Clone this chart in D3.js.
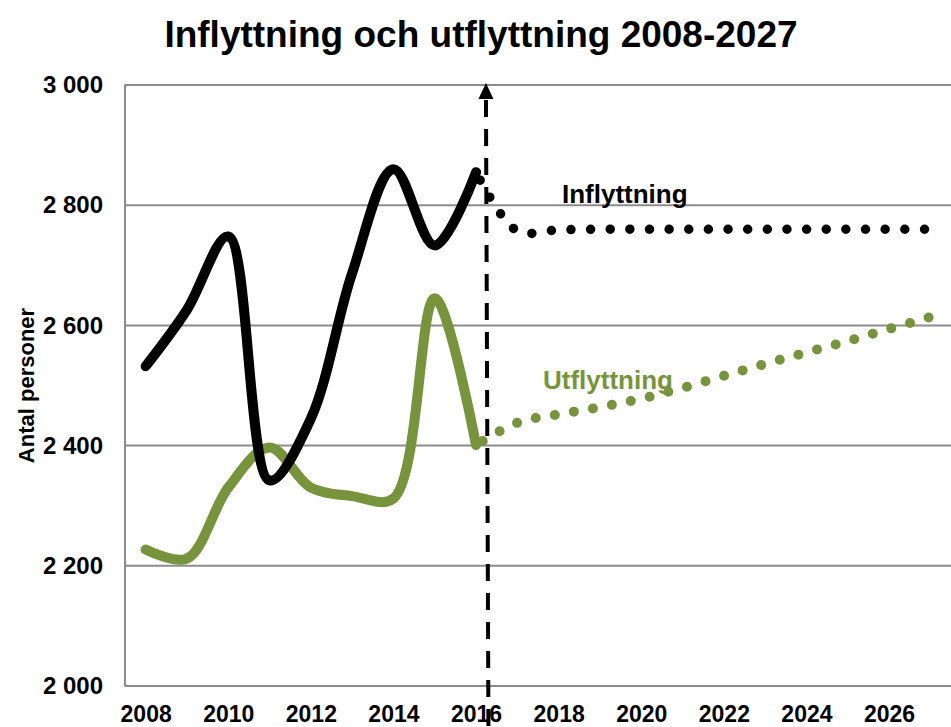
<!DOCTYPE html>
<meta charset="utf-8">
<style>
body { margin: 0; background: #fff; }
text { font-family: "Liberation Sans", Arial, sans-serif; font-weight: bold; }
.grid line { stroke: #8c8c8c; stroke-width: 2; }
</style>
<body>
<script src="https://d3js.org/d3.v7.min.js"></script>
<script>

// years shown on the x axis
const tickYears = [2008, 2010, 2012, 2014, 2016, 2018, 2020, 2022, 2024, 2026];
const yTicks = [2000, 2200, 2400, 2600, 2800, 3000];

// outcome 2008-2016
const histYears = [2008, 2009, 2010, 2011, 2012, 2013, 2014, 2015, 2016];
const inflyttning = [2532, 2626, 2748, 2342, 2445, 2687, 2860, 2733, 2855];
const utflyttning = [2227, 2212, 2330, 2397, 2330, 2316, 2312, 2645, 2401];

// forecast 2016-2027
const progYears = [2016, 2017, 2018, 2019, 2020, 2021, 2022, 2023, 2024, 2025, 2026, 2027];
const inflyttningProg = [2855, 2757, 2759, 2760, 2760, 2760, 2760, 2760, 2760, 2760, 2760, 2760];
const utflyttningProg = [2401, 2438, 2452, 2464, 2478, 2496, 2516, 2536, 2555, 2574, 2594, 2614];

var width = 951, height = 727;
var margin = {top: 85, right: 0, bottom: 41, left: 125};

var svg = d3.select("body").append("svg")
  .attr("width", width)
  .attr("height", height);

var x = d3.scaleLinear().domain([2007.5, 2027.5]).range([margin.left, width - margin.right]);
var y = d3.scaleLinear().domain([2000, 3000]).range([height - margin.bottom, margin.top]);

var locale = d3.formatLocale({decimal: ",", thousands: " ", grouping: [3], currency: ["", ""]});
var fmt = locale.format(",d");

var green = "#77933c";

// gridlines
svg.append("g")
  .attr("class", "grid")
  .selectAll("line")
  .data(yTicks)
  .enter().append("line")
    .attr("x1", margin.left)
    .attr("x2", width)
    .attr("y1", d => y(d))
    .attr("y2", d => y(d));

// left axis line
svg.append("line")
  .attr("x1", margin.left).attr("x2", margin.left)
  .attr("y1", y(3000)).attr("y2", y(2000))
  .attr("stroke", "#8c8c8c").attr("stroke-width", 2);

var yAxis = svg.append("g")
  .attr("transform", "translate(" + margin.left + ",0)")
  .call(d3.axisLeft(y).tickValues(yTicks).tickFormat(fmt).tickSize(0).tickPadding(22));
yAxis.select(".domain").remove();
yAxis.selectAll("text")
  .attr("font-size", "24px")
  .attr("font-family", "Liberation Sans, Arial, sans-serif")
  .attr("font-weight", "bold")
  .attr("fill", "#000");

var xAxis = svg.append("g")
  .attr("transform", "translate(0," + y(2000) + ")")
  .call(d3.axisBottom(x).tickValues(tickYears).tickFormat(d3.format("d")).tickSize(0).tickPadding(20));
xAxis.select(".domain").remove();
xAxis.selectAll("text")
  .attr("font-size", "23px")
  .attr("font-family", "Liberation Sans, Arial, sans-serif")
  .attr("font-weight", "bold")
  .attr("fill", "#000");

// axis title
svg.append("text")
  .attr("transform", "translate(34," + (margin.top + height - margin.bottom) / 2 + ") rotate(-90)")
  .attr("text-anchor", "middle")
  .attr("font-size", "22px")
  .text("Antal personer");

// chart title
svg.append("text")
  .attr("x", 481)
  .attr("y", 47)
  .attr("text-anchor", "middle")
  .attr("font-size", "37px")
  .text("Inflyttning och utflyttning 2008-2027");

var line = d3.line()
  .x(d => x(d[0]))
  .y(d => y(d[1]))
  .curve(d3.curveCatmullRom);

// forecast divider with arrow
var divTop = 2016.24, divBottom = 2016.3;
svg.append("line")
  .attr("x1", x(divTop)).attr("y1", y(2975))
  .attr("x2", x(divBottom)).attr("y2", height)
  .attr("stroke", "#000")
  .attr("stroke-width", 4)
  .attr("stroke-dasharray", "17,12");
svg.append("path")
  .attr("d", "M" + x(divTop) + "," + (y(3000) - 2) + "l-7.5,16h15z")
  .attr("fill", "#000");

// solid lines (outcome)
svg.append("path")
  .datum(histYears.map((d, i) => [d, utflyttning[i]]))
  .attr("d", line)
  .attr("fill", "none")
  .attr("stroke", green)
  .attr("stroke-width", 10)
  .attr("stroke-linecap", "round")
  .attr("stroke-linejoin", "round");

svg.append("path")
  .datum(histYears.map((d, i) => [d, inflyttning[i]]))
  .attr("d", line)
  .attr("fill", "none")
  .attr("stroke", "#000")
  .attr("stroke-width", 10)
  .attr("stroke-linecap", "round")
  .attr("stroke-linejoin", "round");

// dotted lines (forecast), spacing fitted so the dots run to the end of the line
function dotted(path, gap, start, end) {
  var len = path.node().getTotalLength();
  var n = Math.round((len - start - end) / gap);
  path.attr("stroke-dasharray", "0," + ((len - start - end) / n))
    .attr("stroke-dashoffset", -start);
}

var utProg = svg.append("path")
  .datum(progYears.map((d, i) => [d, utflyttningProg[i]]))
  .attr("d", line)
  .attr("fill", "none")
  .attr("stroke", green)
  .attr("stroke-width", 10)
  .attr("stroke-linecap", "round");
dotted(utProg, 19.6, 8, 2);

var inProg = svg.append("path")
  .datum(progYears.map((d, i) => [d, inflyttningProg[i]]))
  .attr("d", line)
  .attr("fill", "none")
  .attr("stroke", "#000")
  .attr("stroke-width", 9.5)
  .attr("stroke-linecap", "round");
dotted(inProg, 19.8, 9, 6);

// series labels
svg.append("text")
  .attr("x", x(2018.08))
  .attr("y", y(2804))
  .attr("font-size", "26px")
  .attr("fill", "#000")
  .text("Inflyttning");

svg.append("text")
  .attr("x", x(2017.62))
  .attr("y", y(2495))
  .attr("font-size", "26px")
  .attr("fill", green)
  .text("Utflyttning");

</script>
</body>
